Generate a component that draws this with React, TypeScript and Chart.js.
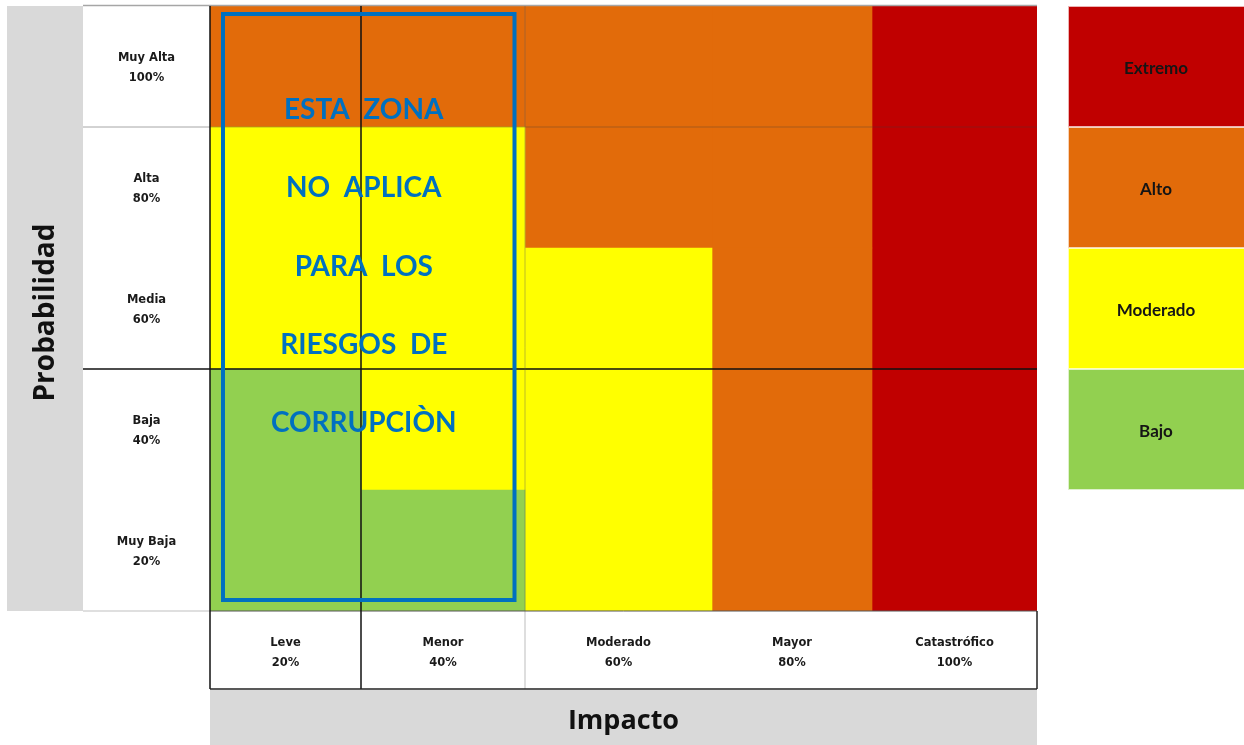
import React, { useEffect, useRef } from "react";
import { Chart, registerables } from "chart.js";

Chart.register(...registerables);

// ---------- data ----------
const impactLabels = ["Leve", "Menor", "Moderado", "Mayor", "Catastrófico"];
const impactPercents = ["20%", "40%", "60%", "80%", "100%"];
const probabilityLabels = ["Muy Alta", "Alta", "Media", "Baja", "Muy Baja"];
const probabilityPercents = ["100%", "80%", "60%", "40%", "20%"];

const levelNames = ["Extremo", "Alto", "Moderado", "Bajo"];
const levelColors = ["#C00000", "#E26B0A", "#FFFF00", "#92D050"];

// risk level of every cell: rows = probability (top → bottom), columns = impact
const rowMuyAlta = ["Alto", "Alto", "Alto", "Alto", "Extremo"];
const rowAlta = ["Moderado", "Moderado", "Alto", "Alto", "Extremo"];
const rowMedia = ["Moderado", "Moderado", "Moderado", "Alto", "Extremo"];
const rowBaja = ["Bajo", "Moderado", "Moderado", "Alto", "Extremo"];
const rowMuyBaja = ["Bajo", "Bajo", "Moderado", "Alto", "Extremo"];
const riskRows = [rowMuyAlta, rowAlta, rowMedia, rowBaja, rowMuyBaja];

const noticeLines = ["ESTA  ZONA", "NO  APLICA", "PARA  LOS", "RIESGOS  DE", "CORRUPCIÒN"];
const xTitle = "Impacto";
const yTitle = "Probabilidad";

// ---------- layout (relative column widths, not data) ----------
const columnWeights = [151, 164, 187, 160, 165];
const columnEdges = columnWeights.reduce<number[]>((acc, w) => [...acc, acc[acc.length - 1] + w], [0]);
const totalWeight = columnEdges[columnEdges.length - 1];

const W = 1244;
const H = 745;
const PANEL_LEFT = 7;
const LABEL_COL_LEFT = 83;
const LABEL_ROW_BOTTOM = 689;
const LEGEND_LEFT = 1068;

const colorOf = (name: string) => levelColors[levelNames.indexOf(name)];

const framePlugin = {
  id: "frame",
  beforeDraw(chart: any) {
    const { ctx, chartArea: a } = chart;
    ctx.save();
    ctx.fillStyle = "#ffffff";
    ctx.fillRect(0, 0, chart.width, chart.height);
    ctx.fillStyle = "#D9D9D9";
    ctx.fillRect(PANEL_LEFT, a.top, LABEL_COL_LEFT - PANEL_LEFT, a.bottom - a.top);
    ctx.fillRect(a.left, LABEL_ROW_BOTTOM + 1, a.right - a.left, chart.height - LABEL_ROW_BOTTOM - 1);
    ctx.restore();
  },
  afterDatasetsDraw(chart: any) {
    const { ctx, chartArea: a, scales } = chart;
    const xs = scales.x;
    const ys = scales.y;
    const rowH = (a.bottom - a.top) / probabilityLabels.length;
    const xAt = (v: number) => xs.getPixelForValue(v);
    ctx.save();

    const line = (x1: number, y1: number, x2: number, y2: number, color: string, w: number) => {
      ctx.beginPath();
      ctx.strokeStyle = color;
      ctx.lineWidth = w;
      ctx.moveTo(x1, y1);
      ctx.lineTo(x2, y2);
      ctx.stroke();
    };

    // grid lines
    line(LABEL_COL_LEFT, a.top - 0.5, a.right, a.top - 0.5, "#a6a6a6", 1.5);
    const y1 = a.top + rowH;
    line(LABEL_COL_LEFT, y1, a.left, y1, "#a6a6a6", 1);
    line(a.left, y1, a.right, y1, "rgba(60,60,60,0.35)", 1);
    const y3 = a.top + rowH * 3;
    line(LABEL_COL_LEFT, y3, a.right, y3, "#111111", 1.5);
    line(LABEL_COL_LEFT, a.bottom, a.left, a.bottom, "#bfbfbf", 1);
    line(a.left, a.bottom, a.right, a.bottom, "#555555", 1);
    const x2 = xAt(columnEdges[2]);
    line(x2, a.top, x2, LABEL_ROW_BOTTOM, "rgba(90,90,90,0.4)", 1);
    line(a.left, a.top, a.left, LABEL_ROW_BOTTOM, "#111111", 1.5);
    const x1 = xAt(columnEdges[1]);
    line(x1, a.top, x1, LABEL_ROW_BOTTOM, "#111111", 1.5);
    line(a.right, a.bottom, a.right, LABEL_ROW_BOTTOM, "#222222", 1.5);
    line(a.left, LABEL_ROW_BOTTOM, a.right, LABEL_ROW_BOTTOM, "#222222", 1.5);

    // probability labels
    ctx.fillStyle = "#1a1a1a";
    ctx.textAlign = "center";
    ctx.textBaseline = "alphabetic";
    ctx.font = "bold 11.5px 'DejaVu Sans'";
    const labelColCenter = (LABEL_COL_LEFT + a.left) / 2;
    probabilityLabels.forEach((lab, i) => {
      const cy = ys.getPixelForValue(i);
      ctx.fillText(lab, labelColCenter, cy - 5.5);
      ctx.fillText(probabilityPercents[i], labelColCenter, cy + 14.5);
    });
    // impact labels
    const rowCenter = (a.bottom + LABEL_ROW_BOTTOM) / 2;
    impactLabels.forEach((lab, i) => {
      const cx = (xAt(columnEdges[i]) + xAt(columnEdges[i + 1])) / 2;
      ctx.fillText(lab, cx, rowCenter - 4.5);
      ctx.fillText(impactPercents[i], cx, rowCenter + 15.5);
    });

    // axis titles
    ctx.fillStyle = "#111111";
    ctx.font = "bold 27px 'Open Sans'";
    ctx.fillText(xTitle, (a.left + a.right) / 2, 729);
    ctx.save();
    ctx.translate(54, (a.top + a.bottom) / 2 + 4);
    ctx.rotate(-Math.PI / 2);
    ctx.font = "bold 28px 'Open Sans'";
    ctx.fillText(yTitle, 0, 0);
    ctx.restore();

    // legend
    levelNames.forEach((name, i) => {
      const cy = ys.getPixelForValue(i);
      const top = cy - rowH / 2;
      ctx.fillStyle = levelColors[i];
      ctx.fillRect(LEGEND_LEFT, top, chart.width - LEGEND_LEFT, rowH);
      ctx.strokeStyle = "rgba(255,255,255,0.7)";
      ctx.lineWidth = 1;
      ctx.strokeRect(LEGEND_LEFT + 0.5, top + 0.5, chart.width - LEGEND_LEFT, rowH - 1);
      ctx.fillStyle = "#151515";
      ctx.font = "bold 17px Lato";
      ctx.fillText(name, (LEGEND_LEFT + chart.width) / 2, cy + 7.5);
    });

    // "not applicable" zone
    const bx1 = xAt(columnEdges[0]) + 13;
    const bx2 = xAt(columnEdges[2]) - 10.5;
    const by1 = a.top + 8;
    const by2 = a.bottom - 11;
    ctx.strokeStyle = "#0070C0";
    ctx.lineWidth = 4;
    ctx.strokeRect(bx1, by1, bx2 - bx1, by2 - by1);
    ctx.fillStyle = "#0070C0";
    ctx.font = "bold 28px Lato";
    const tx = (bx1 + bx2) / 2 - 5;
    noticeLines.forEach((t, i) => {
      ctx.fillText(t, tx, a.top + 113 + i * 78.25);
    });

    ctx.restore();
  },
};

export default function App() {
  const canvasRef = useRef<HTMLCanvasElement | null>(null);

  useEffect(() => {
    if (!canvasRef.current) return;
    const datasets = impactLabels.map((lab, c) => ({
      label: lab,
      data: probabilityLabels.map(() => [columnEdges[c], columnEdges[c + 1]]),
      backgroundColor: riskRows.map((row) => colorOf(row[c])),
      borderWidth: 0,
      borderSkipped: false,
      grouped: false,
      categoryPercentage: 1,
      barPercentage: 1,
    }));
    const chart = new Chart(canvasRef.current, {
      type: "bar",
      data: { labels: probabilityLabels, datasets: datasets as any },
      options: {
        indexAxis: "y",
        responsive: false,
        animation: false,
        layout: { padding: { left: 210, right: 207, top: 6, bottom: 134 } },
        scales: {
          x: { type: "linear", min: 0, max: totalWeight, display: false },
          y: { type: "category", display: false, offset: true },
        },
        plugins: { legend: { display: false }, tooltip: { enabled: false } },
      },
      plugins: [framePlugin],
    });
    return () => chart.destroy();
  }, []);

  return (
    <div style={{ position: "absolute", left: 0, top: 0, width: W, height: H, background: "#fff" }}>
      <canvas ref={canvasRef} width={W} height={H} style={{ display: "block" }} />
    </div>
  );
}
